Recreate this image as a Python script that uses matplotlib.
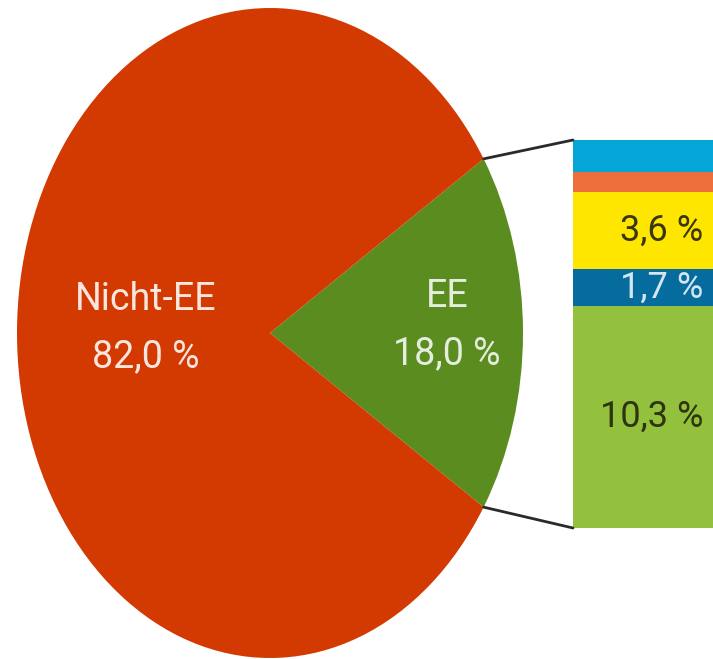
#Pie of EE share with a stacked bar breaking down the EE part
import math
import matplotlib
matplotlib.use('Agg')
import matplotlib.pyplot as plt
from matplotlib.patches import ConnectionPatch

plt.rcParams['font.family'] = ['Roboto', 'DejaVu Sans']

#Data
pie_labels = ['EE', 'Nicht-EE']
pie_values = [18.0, 82.0]
pie_colors = ['#5a8c1f', '#d33a02']

#EE breakdown, bottom to top
bar_values = [10.3, 1.7, 3.6, 0.9, 1.5]
bar_labels = ['10,3 %', '1,7 %', '3,6 %', '', '']
bar_colors = ['#93c13d', '#066c9d', '#ffe600', '#ee6e3c', '#03a6d6']
bar_text_colors = ['#2d3510', '#d4e6f0', '#3a3610', '#000000', '#000000']

fig = plt.figure(figsize=(7.13, 6.59), dpi=100)
W, H = 713.0, 659.0

#Pie axes, stretched vertically like the reference
ax1 = fig.add_axes([17/W, 1/H, 506/W, 650/H])
start = -pie_values[0] / 100 * 360 / 2
wedges, _ = ax1.pie(pie_values, colors=pie_colors, startangle=start,
                    counterclock=True, radius=1)
ax1.set_aspect('auto')
ax1.set_xlim(-1, 1)
ax1.set_ylim(-1, 1)
ax1.axis('off')

ax1.text(-0.49, 0.015, 'Nicht-EE\n82,0 %', ha='center', va='center',
         color='white', alpha=0.88, fontsize=27, linespacing=1.7)
ax1.text(0.70, 0.025, 'EE\n18,0 %', ha='center', va='center',
         color='white', alpha=0.85, fontsize=27, linespacing=1.7)

#Stacked bar, wider than the figure so it gets cut at the right edge
ax2 = fig.add_axes([573/W, (H-528)/H, 172/W, 388/H])
bottom = 0
for val, lab, col, tcol in zip(bar_values, bar_labels, bar_colors, bar_text_colors):
    ax2.bar(0.5, val, width=1.0, bottom=bottom, color=col, zorder=2)
    if lab:
        ax2.text(130/172, bottom + val/2, lab, ha='right', va='center',
                 color=tcol, fontsize=26, zorder=2.5)
    bottom += val
ax2.set_xlim(0, 1)
ax2.set_ylim(0, sum(bar_values))
ax2.axis('off')

#Connector lines from wedge edges to bar corners
theta = math.radians(abs(start))
px, py = math.cos(theta), math.sin(theta)
for sy, by in [(py, sum(bar_values)), (-py, 0)]:
    con = ConnectionPatch(xyA=(px, sy), coordsA=ax1.transData,
                          xyB=(0, by), coordsB=ax2.transData,
                          color='#2a2a2a', linewidth=2)
    fig.add_artist(con)

fig.savefig('out.png', dpi=100)
